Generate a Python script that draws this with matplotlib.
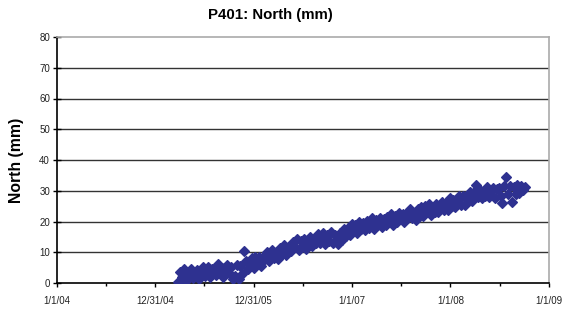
import matplotlib
matplotlib.use("Agg")
import matplotlib.pyplot as plt
import numpy as np
import pandas as pd

# ---- data (weekly samples) ----
start_date = "2005-03-26"
north_mm = [
    0.4, 3.5, 1.8, 4.4, 0.6, 3.2, 1.8, 4.5, 1.7, 3.3,
    4.2, 1.4, 3.4, 5.2, 2.3, 3.2, 5.1, 2.0, 4.6, 3.3,
    2.6, 6.1, 3.5, 5.0, 2.0, 4.6, 5.8, 3.1, 5.1, 1.4,
    2.3, 5.8, 1.2, 5.6, 3.0, 10.4, 7.3, 4.5, 6.5, 8.1,
    5.0, 8.3, 6.2, 8.3, 5.5, 8.4, 7.7, 10.1, 7.1, 9.3,
    10.8, 8.1, 9.8, 7.9, 11.3, 9.5, 12.4, 9.2, 11.7, 10.5,
    10.4, 13.4, 11.7, 14.2, 10.8, 13.6, 11.9, 14.2, 11.2, 14.0,
    14.9, 12.0, 14.3, 13.1, 15.9, 12.9, 14.5, 16.1, 12.7, 15.7,
    13.8, 16.6, 13.1, 15.6, 14.4, 12.8, 16.4, 14.0, 17.6, 15.3,
    17.9, 15.5, 19.1, 17.0, 18.8, 16.2, 19.7, 17.5, 19.6, 17.2,
    20.3, 17.9, 19.4, 21.1, 17.7, 20.5, 19.1, 21.2, 18.1, 20.7,
    18.7, 21.6, 20.2, 22.4, 18.9, 21.7, 20.0, 22.8, 20.7, 22.6,
    19.9, 22.6, 21.5, 24.0, 21.0, 22.8, 20.6, 24.0, 22.0, 24.6,
    21.8, 24.9, 23.3, 25.6, 22.1, 24.8, 23.2, 25.8, 23.0, 25.2,
    26.5, 23.8, 26.0, 23.6, 27.5, 25.2, 27.0, 24.6, 26.7, 28.4,
    25.5, 28.4, 25.4, 28.2, 27.3, 29.6, 26.6, 29.5, 31.9, 27.9,
    30.3, 27.5, 29.9, 28.3, 31.1, 28.1, 29.9, 31.0, 27.7, 30.5,
    30.9, 28.4, 26.0, 31.6, 34.5, 29.1, 31.7, 26.3, 31.1, 28.9,
    31.9, 29.4, 31.5, 30.1, 31.3,
]
dates = pd.date_range(start_date, periods=len(north_mm), freq="7D")

major_ticks = ["2004-01-01", "2004-12-31", "2005-12-31", "2007-01-01", "2008-01-01", "2009-01-01"]
major_labels = ["1/1/04", "12/31/04", "12/31/05", "1/1/07", "1/1/08", "1/1/09"]
y_ticks = [0, 10, 20, 30, 40, 50, 60, 70, 80]

plt.rcParams['font.family'] = ['Liberation Sans', 'DejaVu Sans']

fig = plt.figure(figsize=(5.65, 3.13), dpi=100)
ax = fig.add_axes([57/565, 30/313, 492/565, 246/313])

mt = pd.to_datetime(major_ticks)
ax.set_xlim(mt[0], mt[-1])
ax.set_ylim(0, 80)

ax.set_xticks(mt)
ax.set_xticklabels(major_labels)
minor = [mt[i] + (mt[i+1] - mt[i]) / 2 for i in range(len(mt) - 1)]
ax.set_xticks(minor, minor=True)

ax.set_yticks(y_ticks)
for y in y_ticks[1:-1]:
    ax.axhline(y, color="#333333", lw=1.0, zorder=1)

ax.plot(dates, north_mm, linestyle="none", marker="D", ms=5.4,
        color="#2E3190", markeredgecolor="#2E3190", markeredgewidth=0.9, zorder=3)

for s in ["top", "right"]:
    ax.spines[s].set_color("#aaaaaa")
    ax.spines[s].set_linewidth(1.2)
for s in ["left", "bottom"]:
    ax.spines[s].set_color("#000000")
    ax.spines[s].set_linewidth(1.2)

ax.tick_params(axis="y", which="major", direction="inout", length=6, width=1,
               labelsize=7, labelcolor="#222222", pad=2)
ax.tick_params(axis="x", which="major", direction="out", length=3, width=1,
               labelsize=7, labelcolor="#222222", pad=6)
ax.tick_params(axis="x", which="minor", direction="out", length=2, width=1)

ax.set_ylabel("North (mm)", fontsize=11.3, fontweight="bold", labelpad=11)
fig.text(270/565, 1 - 15/313, "P401: North (mm)", ha="center", va="center",
         fontsize=10.8, fontweight="bold")

fig.savefig("out.png", dpi=100)
